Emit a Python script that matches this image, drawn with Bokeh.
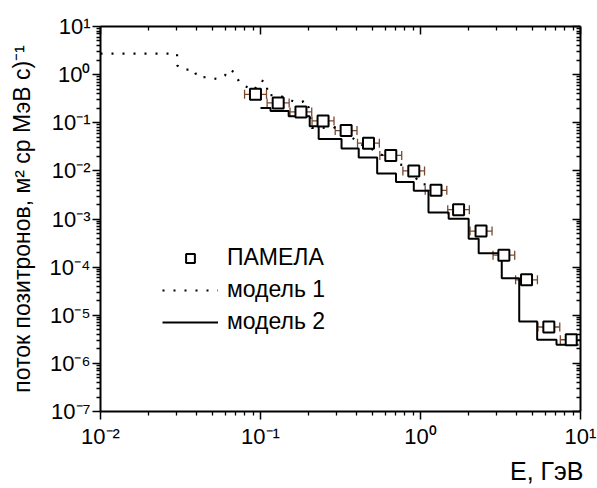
from bokeh.plotting import figure
from bokeh.models import (LogAxis, FixedTicker, Whisker, ColumnDataSource, Legend,
                          LegendItem, Title, TeeHead, Range1d, CustomJSTickFormatter)
from bokeh.embed import file_html
from bokeh.resources import INLINE

# ---------------- data ----------------
# PAMELA positron flux points with horizontal error bars
pamela_E = [0.093, 0.129, 0.179, 0.246, 0.343, 0.473, 0.652, 0.908, 1.25, 1.73,
            2.39, 3.32, 4.60, 6.34, 8.75]
pamela_E_lo = [0.0795, 0.110, 0.153, 0.210, 0.293, 0.404, 0.557, 0.776, 1.07, 1.48,
               2.04, 2.84, 3.93, 5.42, 7.48]
pamela_E_hi = [0.109, 0.151, 0.209, 0.288, 0.401, 0.553, 0.763, 1.06, 1.46, 2.02,
               2.80, 3.88, 5.38, 7.42, 10.2]
pamela_flux = [0.39, 0.258, 0.168, 0.109, 0.0689, 0.0376, 0.0209, 0.0100, 0.00394,
               0.00156, 5.6e-4, 1.77e-4, 5.45e-5, 5.7e-6, 3.1e-6]

# model 1 (dotted)
model1_E = [0.01, 0.0301, 0.0301, 0.0327, 0.0383, 0.0402, 0.047, 0.0536, 0.0598,
            0.064, 0.070, 0.0733, 0.0806, 0.0908, 0.1005, 0.110, 0.110, 0.129,
            0.160, 0.182, 0.191, 0.200, 0.209, 0.245, 0.286, 0.402, 0.422, 0.524,
            0.705, 0.826, 1.0, 1.14]
model1_flux = [2.72, 2.72, 1.56, 1.27, 1.28, 0.89, 0.88, 0.81, 0.95, 1.30, 1.06,
               0.71, 0.57, 0.47, 0.76, 0.68, 0.37, 0.38, 0.279, 0.27, 0.30, 0.206,
               0.078, 0.078, 0.082, 0.042, 0.0358, 0.026, 0.014, 0.0127, 0.00524,
               0.0052]

# model 2 (solid histogram): bin edges and levels
model2_edges = [0.100, 0.1155, 0.150, 0.203, 0.231, 0.321, 0.411, 0.536, 0.703,
                0.908, 1.122, 1.50, 2.00, 2.31, 3.22, 4.14, 5.36, 7.08, 9.72]
model2_flux = [0.203, 0.176, 0.136, 0.0846, 0.0461, 0.0292, 0.0190, 0.00885,
               0.00585, 0.00386, 0.00136, 0.00101, 3.91e-4, 1.95e-4, 5.9e-5,
               7.4e-6, 3.1e-6, 2.45e-6]

x_ticks = [0.01, 0.1, 1.0, 10.0]
x_tick_labels = ["10⁻²", "10⁻¹", "10⁰", "10¹"]
y_ticks = [1e-7, 1e-6, 1e-5, 1e-4, 1e-3, 1e-2, 1e-1, 1.0, 10.0]
y_tick_labels = ["10⁻⁷", "10⁻⁶", "10⁻⁵", "10⁻⁴", "10⁻³", "10⁻²", "10⁻¹", "10⁰", "10¹"]

legend_labels = ["ПАМЕЛА", "модель 1", "модель 2"]
x_label = "E, ГэВ"
y_label = "поток позитронов, м² ср МэВ с)⁻¹"

FONT = "Liberation Sans"
BROWN = "#7a4a30"

x_minor = [m * 10.0 ** k for k in range(-2, 1) for m in range(2, 10)]
y_minor = [m * 10.0 ** k for k in range(-7, 1) for m in range(2, 10)]

p = figure(width=597, height=488, x_axis_type="log", y_axis_type="log",
           x_range=Range1d(0.01, 10), y_range=Range1d(1e-7, 10),
           output_backend="svg", toolbar_location=None,
           min_border_left=100, min_border_right=17, min_border_top=26,
           min_border_bottom=76)
p.grid.visible = False
p.outline_line_color = None
p.background_fill_color = "white"
p.border_fill_color = "white"

# ---- model 2 step line
m2_x = list(model2_edges)
m2_y = list(model2_flux) + [model2_flux[-1]]
r_m2 = p.step(m2_x, m2_y, mode="after", line_color="black", line_width=2)

# ---- model 1 dotted line
r_m1 = p.line(model1_E, model1_flux, line_color="black", line_width=2.2,
              line_dash="2 9")

# ---- PAMELA
src = ColumnDataSource(dict(E=pamela_E, lo=pamela_E_lo, hi=pamela_E_hi, F=pamela_flux))
w = Whisker(source=src, base="F", lower="lo", upper="hi", dimension="width",
            line_color=BROWN, line_width=1.3, level="underlay")
w.upper_head = TeeHead(size=9, line_color=BROWN, line_width=1.3)
w.lower_head = TeeHead(size=9, line_color=BROWN, line_width=1.3)
p.add_layout(w)
r_sq = p.scatter("E", "F", source=src, marker="square", size=11,
                 fill_color="white", line_color="black", line_width=2)

# ---- axes
def style_axis(ax, ticks, minor, labels, outside=True, show_labels=True):
    ax.ticker = FixedTicker(ticks=ticks, minor_ticks=minor)
    ax.axis_line_width = 2
    ax.axis_line_color = "black"
    ax.major_tick_line_width = 1.5
    ax.minor_tick_line_width = 1.3
    if outside:
        ax.major_tick_out, ax.major_tick_in = 8, 0
        ax.minor_tick_out, ax.minor_tick_in = 4, 0
    else:
        ax.major_tick_out, ax.major_tick_in = 0, 8
        ax.minor_tick_out, ax.minor_tick_in = 0, 4
    if show_labels:
        ax.major_label_overrides = dict(zip(ticks, labels))
        ax.major_label_text_font = FONT
        ax.major_label_text_font_size = "22px"
        ax.major_label_text_color = "black"
    else:
        ax.formatter = CustomJSTickFormatter(code="return ''")
        ax.major_label_text_font_size = "0px"
        ax.major_label_standoff = 0

xa = p.xaxis[0]
style_axis(xa, x_ticks, x_minor, x_tick_labels)
xa.major_label_standoff = 4

ya = p.yaxis[0]
style_axis(ya, y_ticks, y_minor, y_tick_labels)
ya.major_label_standoff = 2
ya.axis_label = y_label
ya.axis_label_text_font = FONT
ya.axis_label_text_font_size = "23px"
ya.axis_label_text_font_style = "normal"
ya.axis_label_text_color = "black"
ya.axis_label_standoff = 12

top = LogAxis()
style_axis(top, x_ticks, x_minor, x_tick_labels, outside=False, show_labels=False)
p.add_layout(top, "above")
right = LogAxis()
style_axis(right, y_ticks, y_minor, y_tick_labels, outside=False, show_labels=False)
p.add_layout(right, "right")

# x axis label at the right end, below the tick labels
p.add_layout(Title(text=x_label, align="right", text_font=FONT,
                   text_font_size="25px", text_font_style="normal",
                   text_color="black", standoff=7, offset=-3), "below")

# ---- legend
legend = Legend(items=[LegendItem(label=legend_labels[0], renderers=[r_sq]),
                       LegendItem(label=legend_labels[1], renderers=[r_m1]),
                       LegendItem(label=legend_labels[2], renderers=[r_m2])],
                location=(62, 76), glyph_width=56, glyph_height=22, spacing=5,
                padding=0, margin=0, label_standoff=9, border_line_color=None,
                background_fill_alpha=0, label_text_font=FONT,
                label_text_font_size="23px", label_text_color="black")
p.add_layout(legend)

open("out.html", "w").write(file_html(p, INLINE))
